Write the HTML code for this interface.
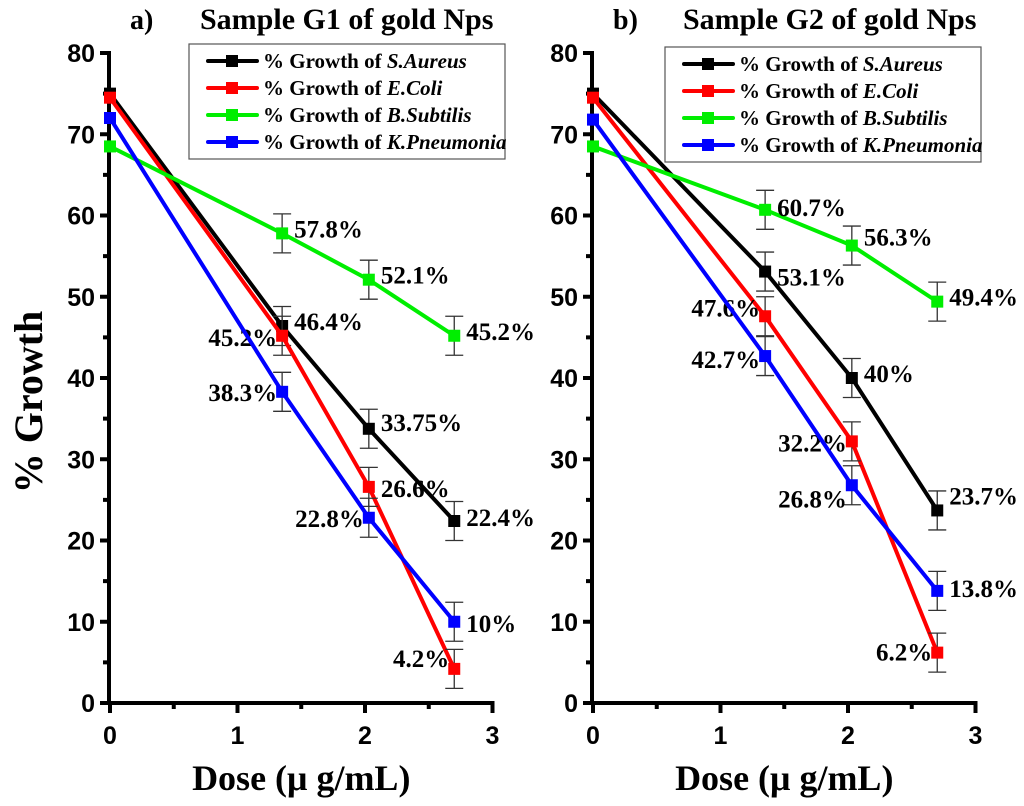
<!DOCTYPE html>
<html><head><meta charset="utf-8">
<style>
html,body{margin:0;padding:0;background:#fff;}
svg{display:block;}
.tk{font-family:"Liberation Sans",sans-serif;font-weight:bold;font-size:25px;}
.sr{font-family:"Liberation Serif",serif;font-weight:bold;}
</style></head>
<body>
<svg id="chart" width="1024" height="806" viewBox="0 0 1024 806" xmlns="http://www.w3.org/2000/svg"></svg>
<script>
// ---- data ----
const doses = [0, 1.35, 2.03, 2.7];
const seriesNames = ["S.Aureus", "E.Coli", "B.Subtilis", "K.Pneumonia"];
const seriesColors = ["#000000", "#ff0000", "#00ee00", "#0000ff"];
const g1Aureus = [75, 46.4, 33.75, 22.4];
const g1Coli = [74.5, 45.2, 26.6, 4.2];
const g1Subtilis = [68.5, 57.8, 52.1, 45.2];
const g1Pneumonia = [72, 38.3, 22.8, 10];
const g2Aureus = [75, 53.1, 40, 23.7];
const g2Coli = [74.5, 47.6, 32.2, 6.2];
const g2Subtilis = [68.5, 60.7, 56.3, 49.4];
const g2Pneumonia = [71.8, 42.7, 26.8, 13.8];
const g1Labels = [[null,"46.4%","33.75%","22.4%"],[null,"45.2%","26.6%","4.2%"],[null,"57.8%","52.1%","45.2%"],[null,"38.3%","22.8%","10%"]];
const g2Labels = [[null,"53.1%","40%","23.7%"],[null,"47.6%","32.2%","6.2%"],[null,"60.7%","56.3%","49.4%"],[null,"42.7%","26.8%","13.8%"]];
const errHalf = 2.4;
const yTicks = [0,10,20,30,40,50,60,70,80];
const xTicks = [0,1,2,3];
// label placement: side 1 = right, -1 = left; dy pixel offsets
const g1Side = [[0,1,1,1],[0,-1,1,-1],[0,1,1,1],[0,-1,-1,1]];
const g1Dy = [[0,-4,-6,-3],[0,2,2,-10],[0,-4,-4,-4],[0,1,1,2]];
const g2Side = [[0,1,1,1],[0,-1,-1,-1],[0,1,1,1],[0,-1,-1,1]];
const g2Dy = [[0,6,-4,-14],[0,-8,2,0],[0,-2,-8,-4],[0,4,14,-2]];

const NS = "http://www.w3.org/2000/svg";
const svg = document.getElementById("chart");
function mk(tag, attrs, parent){ const e=document.createElementNS(NS,tag); for(const k in attrs) e.setAttribute(k,attrs[k]); (parent||svg).appendChild(e); return e; }

function panel(p){
  const g = mk("g",{});
  
  
  const X = v => p.x0 + v*127.5;
  const Y = v => 703 - v*8.125;
  const t1 = mk("text",{x:p.x0+20,y:29,class:"sr","font-size":"28"},g); t1.textContent=p.letter;
  
  
  const t2 = mk("text",{x:p.x0+90,y:29,class:"sr","font-size":"30"},g); t2.textContent=p.title;
  
  
  const ax = mk("g",{stroke:"#000","stroke-width":"4"},g);
  
  
  mk("line",{x1:X(0)-1,y1:Y(80)-2,x2:X(0)-1,y2:Y(0)+2},ax);
  mk("line",{x1:X(0)-8,y1:Y(0),x2:X(3)+2,y2:Y(0)},ax);
  for(let v=0; v<=80; v+=5){ mk("line",{x1:X(0)-(v%10==0?10:7),y1:Y(v),x2:X(0),y2:Y(v)},ax); }
  for(let v=0; v<=3; v+=0.5){ mk("line",{x1:X(v),y1:Y(0),x2:X(v),y2:Y(0)+(v%1==0?10:6)},ax); }
  yTicks.forEach(v=>{ const t=mk("text",{x:X(0)-15,y:Y(v)+9,class:"tk","text-anchor":"end"},g); t.textContent=v;
    
     });
  xTicks.forEach(v=>{ const t=mk("text",{x:X(v),y:Y(0)+41,class:"tk","text-anchor":"middle"},g); t.textContent=v;
    
     });
  const xt = mk("text",{x:X(1.5),y:790,class:"sr","font-size":"36","text-anchor":"middle"},g); xt.textContent="Dose (\u03bc g/mL)";
  
  
  p.series.forEach((vals,si)=>{
    const sg = mk("g",{},g);
    
    
    const pts = vals.map((v,i)=>X(doses[i])+","+Y(v)).join(" ");
    const pl = mk("polyline",{points:pts,fill:"none",stroke:seriesColors[si],"stroke-width":"4"},sg);
    
    
    vals.forEach((v,i)=>{
      const cx=X(doses[i]), cy=Y(v);
      if(i>0){
        const eb = mk("g",{stroke:"#333","stroke-width":"1.3"},sg);
        
        
        mk("line",{x1:cx,y1:Y(v+errHalf),x2:cx,y2:Y(v-errHalf)},eb);
        mk("line",{x1:cx-9,y1:Y(v+errHalf),x2:cx+9,y2:Y(v+errHalf)},eb);
        mk("line",{x1:cx-9,y1:Y(v-errHalf),x2:cx+9,y2:Y(v-errHalf)},eb);
      }
      const m = mk("rect",{x:cx-6,y:cy-6,width:12,height:12,fill:seriesColors[si]},sg);
      
      
      const lab = p.labels[si][i];
      if(lab){
        const side=p.side[si][i];
        const tl = mk("text",{x:cx+side*(side>0?12:5),y:cy+8+p.dy[si][i],class:"sr","font-size":"25","text-anchor":side>0?"start":"end"},sg);
        tl.textContent=lab;
        
        
      }
    });
  });
  const lg = mk("g",{},g);
  
  
  mk("rect",{x:p.lx,y:p.ly,width:316,height:115,fill:"#fff",stroke:"#555","stroke-width":"1.2"},lg);
  seriesNames.forEach((n,si)=>{
    const ry = p.ly+17+si*27;
    const e = mk("g",{},lg);
    
    
    mk("line",{x1:p.lx+19,y1:ry,x2:p.lx+68,y2:ry,stroke:seriesColors[si],"stroke-width":"4","stroke-linecap":"round"},e);
    mk("rect",{x:p.lx+37,y:ry-6,width:12,height:12,fill:seriesColors[si]},e);
    const tx = mk("text",{x:p.lx+74,y:ry+7,class:"sr","font-size":"21"},e);
    tx.innerHTML = "% Growth of <tspan font-style=\"italic\">"+n+"</tspan>";
  });
}
panel({name:"panel-a",letter:"a)",title:"Sample G1 of gold Nps",x0:110,lx:189,ly:44,
  series:[g1Aureus,g1Coli,g1Subtilis,g1Pneumonia],labels:g1Labels,side:g1Side,dy:g1Dy});
panel({name:"panel-b",letter:"b)",title:"Sample G2 of gold Nps",x0:593,lx:665,ly:47,
  series:[g2Aureus,g2Coli,g2Subtilis,g2Pneumonia],labels:g2Labels,side:g2Side,dy:g2Dy});
const yt = mk("text",{x:0,y:0,class:"sr","font-size":"40","text-anchor":"middle",transform:"translate(42,402) rotate(-90)"});
yt.textContent="% Growth";


</script>
</body></html>
